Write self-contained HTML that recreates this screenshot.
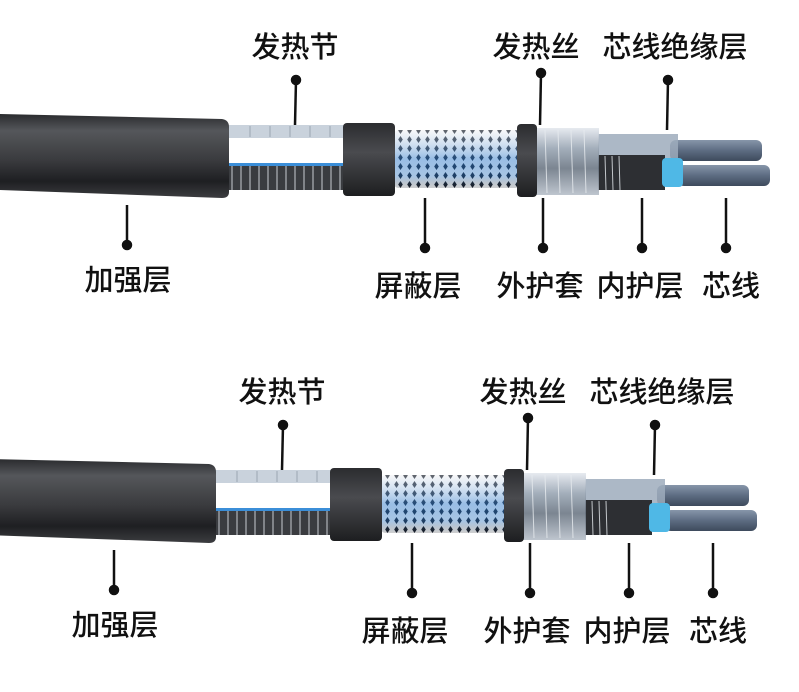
<!DOCTYPE html>
<html><head><meta charset="utf-8"><style>
html,body{margin:0;padding:0;background:#fff;}
body{width:799px;height:692px;overflow:hidden;position:relative;}
svg{position:absolute;left:0;top:0;}
text{font-family:"Liberation Sans","Noto Sans CJK SC",sans-serif;font-size:29px;fill:#111;font-weight:500;}
</style></head><body>
<svg width="799" height="692" viewBox="0 0 799 692" xmlns="http://www.w3.org/2000/svg">
<defs>
<linearGradient id="jk" x1="0" y1="0" x2="0" y2="1">
<stop offset="0" stop-color="#2a2b2e"/><stop offset="0.2" stop-color="#55575b"/><stop offset="0.55" stop-color="#3a3b3e"/><stop offset="0.8" stop-color="#1e1f22"/><stop offset="1" stop-color="#3c3d40"/></linearGradient>
<linearGradient id="blk" x1="0" y1="0" x2="0" y2="1">
<stop offset="0" stop-color="#2b2c2f"/><stop offset="0.4" stop-color="#4a4b4f"/><stop offset="1" stop-color="#1d1e20"/></linearGradient>
<linearGradient id="cond" x1="0" y1="0" x2="0" y2="1">
<stop offset="0" stop-color="#8796aa"/><stop offset="0.5" stop-color="#5d6c82"/><stop offset="1" stop-color="#3d4a5c"/></linearGradient>
<linearGradient id="tr" x1="0" y1="0" x2="0" y2="1">
<stop offset="0" stop-color="#e4e8ee"/><stop offset="0.3" stop-color="#9aa6b4"/><stop offset="0.6" stop-color="#6d7885"/><stop offset="1" stop-color="#b7bfc9"/></linearGradient>
<pattern id="br" width="9" height="9" patternUnits="userSpaceOnUse">
<rect width="9" height="9" fill="#f3f4f6"/>
<path d="M4.5 1 L6.8 4.5 L4.5 8 L2.2 4.5Z" fill="#1e2430"/>
</pattern>
<linearGradient id="brsh" x1="0" y1="0" x2="0" y2="1">
<stop offset="0" stop-color="#fff" stop-opacity="0.3"/><stop offset="0.5" stop-color="#2a7ad0" stop-opacity="0.45"/><stop offset="0.8" stop-color="#1d6fc4" stop-opacity="0.35"/><stop offset="1" stop-color="#000" stop-opacity="0.15"/></linearGradient>
<g id="cable">
<rect x="670" y="140" width="92" height="21" rx="6" fill="url(#cond)"/>
<rect x="678" y="165" width="92" height="21" rx="6" fill="url(#cond)"/>
<rect x="598" y="134" width="80" height="26" fill="#9eabbc" opacity="0.85"/>
<rect x="598" y="155" width="67" height="35" fill="#2d2f33"/>
<rect x="662" y="158" width="21" height="29" rx="4" fill="#4fb8e6"/>
<rect x="535" y="128" width="64" height="67" fill="url(#tr)" opacity="0.9"/>
<g stroke="#e8ecf0" stroke-width="1" opacity="0.8">
<line x1="545" y1="130" x2="547" y2="193"/><line x1="558" y1="130" x2="560" y2="193"/><line x1="571" y1="130" x2="573" y2="193"/><line x1="584" y1="130" x2="586" y2="193"/><line x1="605" y1="156" x2="606" y2="190"/><line x1="612" y1="156" x2="613" y2="190"/><line x1="619" y1="156" x2="620" y2="190"/></g>
<rect x="393" y="130" width="128" height="58" rx="6" fill="url(#br)"/>
<rect x="393" y="130" width="128" height="58" rx="6" fill="url(#brsh)"/>
<rect x="517" y="124" width="20" height="73" rx="4" fill="url(#blk)"/>
<rect x="222" y="125" width="125" height="13" fill="#c9d2dc"/>
<rect x="222" y="138" width="125" height="27" fill="#fff"/>
<rect x="222" y="163" width="125" height="3" fill="#3b8ed8"/>
<rect x="222" y="166" width="125" height="24" fill="#3a3c40"/>
<g stroke="#c8ccd2" stroke-width="1">
<line x1="232" y1="166" x2="232" y2="190"/><line x1="241" y1="166" x2="241" y2="190"/><line x1="250" y1="166" x2="250" y2="190"/><line x1="259" y1="166" x2="259" y2="190"/><line x1="268" y1="166" x2="268" y2="190"/><line x1="277" y1="166" x2="277" y2="190"/><line x1="286" y1="166" x2="286" y2="190"/><line x1="295" y1="166" x2="295" y2="190"/><line x1="304" y1="166" x2="304" y2="190"/><line x1="313" y1="166" x2="313" y2="190"/><line x1="322" y1="166" x2="322" y2="190"/><line x1="331" y1="166" x2="331" y2="190"/><line x1="340" y1="166" x2="340" y2="190"/></g>
<g stroke="#9aa5b2" stroke-width="1"><line x1="250" y1="126" x2="250" y2="137"/><line x1="270" y1="126" x2="270" y2="137"/><line x1="290" y1="126" x2="290" y2="137"/><line x1="310" y1="126" x2="310" y2="137"/><line x1="330" y1="126" x2="330" y2="137"/></g>
<rect x="343" y="123" width="52" height="73" rx="4" fill="url(#blk)"/>
<path d="M0 114 L222 119 Q229 120 229 127 L229 192 Q229 198 222 198 L0 190 Z" fill="url(#jk)"/>
</g>
</defs>
<use href="#cable"/>
<use href="#cable" transform="translate(-13,345)"/>
<g stroke="#111" stroke-width="2.5" fill="#111">
<line x1="296" y1="80" x2="295" y2="125"/><circle cx="296" cy="80" r="4"/>
<line x1="541" y1="73" x2="540" y2="125"/><circle cx="541" cy="73" r="4"/>
<line x1="668" y1="80" x2="667" y2="130"/><circle cx="668" cy="80" r="4"/>
<line x1="127" y1="205" x2="127" y2="245"/><circle cx="127" cy="245" r="4"/>
<line x1="425" y1="198" x2="425" y2="248"/><circle cx="425" cy="248" r="4"/>
<line x1="543" y1="198" x2="543" y2="248"/><circle cx="543" cy="248" r="4"/>
<line x1="642" y1="198" x2="642" y2="248"/><circle cx="642" cy="248" r="4"/>
<line x1="726" y1="198" x2="726" y2="248"/><circle cx="726" cy="248" r="4"/>
</g>
<g stroke="#111" stroke-width="2.5" fill="#111" transform="translate(-13,345)">
<line x1="296" y1="80" x2="295" y2="125"/><circle cx="296" cy="80" r="4"/>
<line x1="541" y1="73" x2="540" y2="125"/><circle cx="541" cy="73" r="4"/>
<line x1="668" y1="80" x2="667" y2="130"/><circle cx="668" cy="80" r="4"/>
<line x1="127" y1="205" x2="127" y2="245"/><circle cx="127" cy="245" r="4"/>
<line x1="425" y1="198" x2="425" y2="248"/><circle cx="425" cy="248" r="4"/>
<line x1="543" y1="198" x2="543" y2="248"/><circle cx="543" cy="248" r="4"/>
<line x1="642" y1="198" x2="642" y2="248"/><circle cx="642" cy="248" r="4"/>
<line x1="726" y1="198" x2="726" y2="248"/><circle cx="726" cy="248" r="4"/>
</g>
<g text-anchor="middle">
<text x="295" y="57">发热节</text>
<text x="536" y="57">发热丝</text>
<text x="675" y="57">芯线绝缘层</text>
<text x="128" y="290">加强层</text>
<text x="418" y="296">屏蔽层</text>
<text x="540" y="296">外护套</text>
<text x="640" y="296">内护层</text>
<text x="731" y="296">芯线</text>
</g>
<g text-anchor="middle" transform="translate(-13,345)">
<text x="295" y="57">发热节</text>
<text x="536" y="57">发热丝</text>
<text x="675" y="57">芯线绝缘层</text>
<text x="128" y="290">加强层</text>
<text x="418" y="296">屏蔽层</text>
<text x="540" y="296">外护套</text>
<text x="640" y="296">内护层</text>
<text x="731" y="296">芯线</text>
</g>
</svg>
</body></html>
